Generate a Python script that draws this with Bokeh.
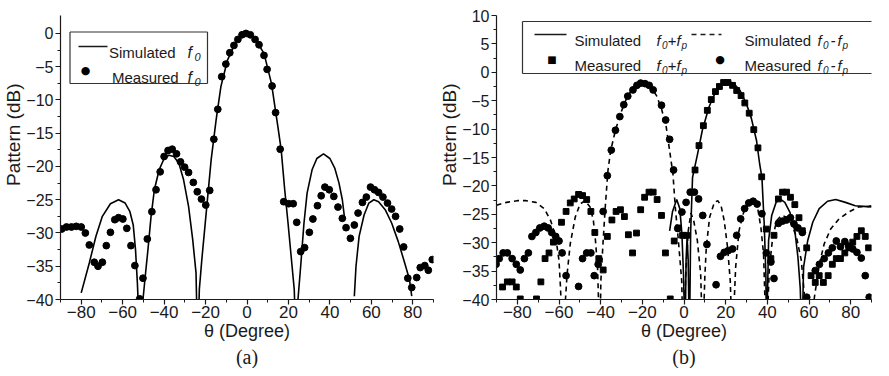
import math
from bokeh.plotting import figure
from bokeh.layouts import row
from bokeh.models import Range1d, FixedTicker, Label, Arrow, Title
from bokeh.embed import file_html
from bokeh.resources import INLINE

NaN = float("nan")

# ---------------- data: panel (a) ----------------
sim_a_theta = [-80, -76.1, -72.9, -69.8, -65.9, -62, -58.8, -56.5, -54.9, -53.8, -52.9, -51.5,
               -50.2, -49.1, -47.8, -46.3, -44.7, -42.4, -40, -37.6, -35.3, -32.9, -30.6, -28.2,
               -26.2, -24.6, -23.8, -23.0, -21.8, -20.3, -18.8, -17.3, -14.9, -12.6, -9.4, -5.5,
               -0.8, 3.9, 8.2, 11.8, 14.9, 16.5, 18.2, 19.8, 21.3, 22.8, 23.8, 24.6, 25.9, 27.5,
               29.0, 31.4, 33.7, 36.9, 40, 42.4, 44.4, 46, 47.1, NaN, 51.8, 52.6, 54.1, 56.5, 58.8,
               61.2, 63.5, 66.7, 69.8, 73, 76.1, 78.4, 79.5]
sim_a_db = [-39.0, -34.5, -30.5, -27.5, -25.6, -25.0, -25.5, -26.8, -28.8, -32.5, -37.5, -48,
            -40, -36.5, -32.5, -27.5, -23.5, -20.5, -18.8, -18.3, -18.5, -19.5, -22.0, -26.0,
            -31.0, -36.0, -48, -38.5, -34, -29, -24, -19, -13, -8.0, -4.0, -1.3,
            0.0, -0.8, -3.0, -7.5, -14.0, -17.5, -23.5, -28.5, -33.5, -38.5, -48, -40, -35, -28.5,
            -24.0, -20.5, -18.8, -18.1, -18.8, -20.3, -22.5, -25.0, -27.8, NaN, -39.5, -35, -30.5, -27.3, -25.5,
            -25.0, -25.3, -26.5, -28.5, -31.3, -34.5, -37, -39.5]

meas_a_theta = [-89.4, -87.1, -84.7, -82.4, -80.0, -78.0, -76.1, -73.7, -71.9, -69.8, -67.9, -65.9,
                -63.8, -62.0, -59.9, -58.0, -56.0, -54.1, -51.8, -50.2, -48.1, -45.9, -43.9, -41.9,
                -40.0, -38.1, -36.1, -34.0, -32.1, -30.1, -28.2, -25.9, -24.0, -22.0, -19.9, -18.0,
                -16.0, -14.1, -12.2, -10.2, -8.3, -6.3, -4.4, -2.4, -0.5, 1.6, 3.9, 5.8, 8.2, 9.7,
                12.1, 13.8, 16.0, 17.7, 20.1, 22.3, 24.0, 25.9, 27.8, 30.1, 31.8, 34.0, 35.8, 37.6,
                39.7, 41.9, 43.9, 46.0, 47.8, 49.9, 51.8, 53.6, 55.7, 57.6, 59.6, 61.5, 63.5, 65.6,
                67.8, 69.8, 71.7, 73.7, 75.6, 77.6, 79.5, 81.9, 83.6, 85.8, 87.5, 89.4]
meas_a_db = [-29.4, -29.1, -29.1, -29.0, -29.1, -30.0, -31.8, -34.4, -35.0, -34.4, -31.9, -29.9,
             -28.0, -27.7, -27.9, -29.3, -31.9, -34.9, -39.9, -36.8, -30.9, -26.8, -23.5, -20.8,
             -18.5, -17.6, -17.4, -18.1, -19.3, -20.1, -20.9, -22.4, -23.8, -24.9, -25.8, -23.6,
             -15.9, -11.4, -6.5, -4.6, -2.9, -1.8, -0.9, -0.2, 0.0, -0.2, -0.9, -1.7, -3.3, -5.4,
             -7.9, -11.9, -17.4, -25.3, -25.6, -25.6, -28.4, -32.8, -32.2, -29.9, -27.9, -25.9, -24.4, -23.1,
             -23.5, -24.5, -26.1, -27.8, -29.2, -30.8, -28.8, -27.0, -25.4, -24.6, -23.1, -23.5, -23.9, -24.6,
             -25.5, -26.4, -27.5, -29.4, -32.1, -36.8, -38.2, -36.7, -35.2, -34.9, -35.6, -34.0]

# ---------------- data: panel (b) ----------------
sim_plus_theta = [-6.9, -5.5, -3.5, -2.0, -1.0, -0.2, 0.5, 1.0, 1.5, 2.0, 2.6, 3.2, 4.1, 6.5, 8.8,
                  12.0, 15.1, 18.3, 20.6, 23.7, 26.9, 30.0, 32.4, 34.8, 36.3, 37.4, 38.5, 39.3, 39.6,
                  40.6, 42.1, 44.2, 46.1, 48.4, 50.8, 53.2, 54.7, 55.8, 56.6, 57.4, 59.4, 61.8, 64.9,
                  68.9, 72.8, 77.5, 82.2, 86.2, 90]
sim_plus_db = [-27.9, -24.5, -22.4, -24.0, -28.5, -36.0, -48, -33, -29, -33, -48, -28, -18.5, -14.4, -10.2,
               -6.1, -3.5, -2.0, -1.6, -1.9, -3.2, -5.6, -8.2, -12.0, -16.1, -18.5, -26.7, -35.5, -48,
               -29.6, -25.2, -22.9, -22.3, -22.9, -24.6, -27.9, -32.6, -38, -48, -34.3, -29.6, -26.4, -24.0,
               -22.7, -22.4, -22.9, -23.5, -23.6, -23.7]

sim_minus_theta = [-90, -85.2, -80.0, -75.8, -71.1, -67.1, -64.0, -61.6, -60.0, -59.3, -58.1,
                   -56.9, -56.1, -54.6, -52.2, -49.9, -47.5, -45.1, -43.5, -42.5, -41.5, -40.4,
                   -39.9, -38.8, -37.7, -36.5, -35.2, -32.9, -30.5, -27.4, -24.2, -20.3, -16.4, -13.2,
                   -10.8, -8.5, -6.9, -5.3, -4.2, -2.7, -1.1, -0.4, 0.8, 2.0, 3.3, 4.6, 6.4, 8.0, 9.0,
                   10.0, 10.7, 12.3, 14.6, 16.2, 17.8, 19.3, 20.9, 22.2, 23.2, 24.8, 26.4, 28.8, 31.1,
                   33.5, 35.4, 36.9, 38.2, 39.5, 41.0, 42.6, 44.5, 46.8, 49.2, 51.6, 54.0, 56.3, 57.9,
                   60.3, 62.6, 65.0, 67.3, 70.4, 74.4, 79.1, 83.8, 88.6, 90]
sim_minus_db = [-23.4, -22.9, -22.6, -22.6, -22.9, -24.0, -26.1, -29.0, -33.1, -37.8, -48,
                -40, -35.5, -30.2, -25.5, -23.2, -22.6, -23.7, -26.1, -29.6, -34.3, -48,
                -36.7, -29.6, -23.2, -17.3, -13.8, -10.2, -7.3, -4.4, -2.6, -1.7, -2.3, -4.1,
                -6.4, -9.7, -13.8, -17.9, -23.7, -29.6, -36.7, -48, -36, -28, -24.8, -26, -29.6, -35.5, -48,
                -36, -30.8, -25.5, -22.9, -22.6, -23.5, -26.1, -30.8, -36.7, -48, -34.3, -27.9, -24.4, -22.9,
                -22.9, -24.0, -27.3, -32.0, -48, -34.3, -29.0, -26.1, -25.2, -25.5, -26.7, -29.0, -33.1, -39.6,
                -48, -39.6, -33.7, -30.2, -27.6, -25.8, -24.6, -23.7, -23.6, -23.5]

meas_plus_theta = [-87.1, -84.8, -82.5, -80.5, -78.6, -70.8, -68.7, -66.7, -64.8, -62.7, -58.8, -56.6,
                   -54.6, -52.7, -50.6, -48.7, -46.7, -44.7, -42.8, -40.9, -38.8, -36.8, -34.6, -32.6,
                   -30.5, -28.6, -26.7, -24.7, -22.8, -20.8, -18.9, -16.8, -14.8, -12.9, -10.8, -8.9,
                   -6.6, -4.7, -2.7, -0.7, 1.3, 5.3, 7.2, 9.3, 11.2, 13.1, 15.1, 17.0, 19.0, 21.1, 23.3,
                   25.3, 27.4, 29.2, 31.3, 33.5, 35.5, 37.3, 39.5, 41.7, 43.2, 45.3, 47.3, 49.2, 51.1,
                   53.2, 55.2, 56.8, 58.9, 61.0, 63.0, 64.9, 66.9, 69.2, 71.2, 73.1, 75.1, 77.2, 79.1,
                   81.0, 83.0, 85.1, 87.0, 88.6]
meas_plus_db = [-37.8, -36.9, -36.9, -37.8, -39.9, -39.9, -36.9, -32.8, -31.8, -29.9, -26.4, -24.5,
                -23.0, -22.3, -21.5, -21.7, -22.4, -24.5, -28.2, -32.8, -34.8, -28.9, -26.0, -24.5,
                -24.2, -25.4, -28.6, -31.8, -28.3, -24.2, -22.0, -21.1, -21.1, -22.4, -25.2, -31.8,
                -39.9, -29.7, -27.4, -28.7, -28.7, -17.2, -12.9, -9.4, -6.7, -4.8, -3.4, -2.5, -1.8, -1.8, -2.3,
                -3.2, -4.1, -5.4, -7.2, -10.1, -13.3, -18.4, -27.6, -32.8, -28.7, -22.3, -21.1, -21.1, -22.0,
                -23.3, -25.6, -27.9, -30.9, -35.8, -37.0, -35.8, -37.0, -35.8, -33.8, -32.8, -32.8, -31.8, -30.9,
                -29.9, -28.9, -27.9, -28.9, -30.9]

meas_minus_theta = [-90.2, -88.7, -86.8, -84.8, -82.5, -80.5, -78.6, -76.6, -74.7, -73.0, -71.1, -69.2,
                    -67.1, -65.2, -63.5, -61.6, -60.0, -58.5, -56.6, -50.6, -48.7, -46.7, -44.7, -43.1,
                    -41.2, -38.8, -36.8, -34.9, -32.9, -30.8, -28.9, -27.0, -24.5, -22.6, -20.8, -18.7,
                    -16.7, -14.8, -10.8, -8.8, -6.9, -5.0, -3.0, -1.0, 1.0, 3.0, 5.0, 7.0, 9.0, 11.0,
                    15.4, 17.5, 19.3, 21.2, 23.3, 25.3, 27.2, 29.1, 31.1, 33.2, 35.1, 37.4, 39.5, 41.7,
                    43.2, 45.3, 47.3, 49.2, 51.1, 52.8, 54.7, 56.8, 58.9, 63.0, 65.0, 67.3, 69.3, 71.2,
                    73.1, 75.1, 77.2, 79.1, 81.0, 83.0, 85.1, 87.0, 88.9]
meas_minus_db = [-33.8, -32.8, -31.8, -31.8, -32.8, -33.8, -34.8, -32.8, -31.8, -28.9, -28.2, -27.4,
                 -27.1, -27.4, -28.2, -28.9, -29.7, -31.8, -35.8, -37.7, -32.8, -31.8, -31.8, -35.8,
                 -33.8, -24.5, -18.2, -13.7, -10.2, -7.8, -5.7, -4.2, -3.1, -2.3, -1.9, -2.0,
                 -2.3, -3.1, -5.8, -8.4, -11.8, -17.2, -27.5, -24.6, -22.9, -21.1, -21.1, -22.3, -25.2, -30.3,
                 -37.4, -32.4, -31.7, -31.4, -31.1, -28.7, -25.8, -24.0, -23.0, -22.7, -23.2, -24.9, -31.8, -33.4,
                 -36.3, -26.6, -26.2, -26.0, -25.6, -26.7, -27.4, -28.2, -39.6, -34.9, -33.8, -32.8, -31.8, -30.9,
                 -29.7, -30.7, -29.8, -30.6, -31.1, -31.7, -32.7, -35.8, -39.6]

x_ticks = [-80, -60, -40, -20, 0, 20, 40, 60, 80]
x_minor = [-90, -70, -50, -30, -10, 10, 30, 50, 70, 90]
a_y_ticks = [-40, -35, -30, -25, -20, -15, -10, -5, 0]
a_y_minor = [-37.5, -32.5, -27.5, -22.5, -17.5, -12.5, -7.5, -2.5]
b_y_ticks = [-40, -35, -30, -25, -20, -15, -10, -5, 0, 5, 10]
b_y_minor = [-37.5, -32.5, -27.5, -22.5, -17.5, -12.5, -7.5, -2.5, 2.5, 7.5]

# ---------------- layout constants ----------------
H = 368
TOP, BOTTOM = 15, 69
FRAME_BOTTOM_PAGE = H - BOTTOM      # page y of the x axis
FONT = "Liberation Sans"
INK = "#1a1a1a"


def make_fig(width, left, right, y_lo, y_hi, yt, ym, tag, ylab_offset):
    p = figure(width=width, height=H, x_range=Range1d(-90, 90), y_range=Range1d(y_lo, y_hi),
               output_backend="svg", toolbar_location=None, title=None,
               min_border_left=left, min_border_right=right,
               min_border_top=TOP, min_border_bottom=BOTTOM)
    p.outline_line_color = None
    p.xgrid.visible = False
    p.ygrid.visible = False
    p.background_fill_color = "white"
    p.border_fill_color = "white"
    p.xaxis.ticker = FixedTicker(ticks=x_ticks, minor_ticks=x_minor)
    p.yaxis.ticker = FixedTicker(ticks=yt, minor_ticks=ym)
    for ax in (p.xaxis[0], p.yaxis[0]):
        ax.axis_line_color = INK
        ax.axis_line_width = 1.2
        ax.major_tick_line_color = INK
        ax.minor_tick_line_color = INK
        ax.major_tick_line_width = 1.2
        ax.minor_tick_line_width = 1
        ax.major_tick_out = 5
        ax.major_tick_in = 0
        ax.minor_tick_out = 3
        ax.minor_tick_in = 0
        ax.major_label_text_font = FONT
        ax.major_label_text_color = INK
        ax.axis_label_text_font = FONT
        ax.axis_label_text_font_style = "normal"
        ax.axis_label_text_color = INK
        ax.axis_label_standoff = 0
    p.xaxis.major_label_text_font_size = "17px"
    p.xaxis.major_label_standoff = 1
    p.yaxis.major_label_text_font_size = "16px"
    p.yaxis.major_label_standoff = 2
    p.xaxis.axis_label = "θ (Degree)"
    p.xaxis.axis_label_text_font_size = "18px"
    # y-axis title: placed as a side title so that it can sit above the frame centre
    p.add_layout(Title(text="Pattern (dB)", align="right", offset=ylab_offset,
                       text_font=FONT, text_font_size="19px", text_font_style="normal",
                       text_color=INK, standoff=0), "left")
    p.add_layout(Title(text=tag, align="center", text_font="Liberation Serif",
                       text_font_size="20px", text_font_style="normal", text_color=INK,
                       standoff=0, offset=0), "below")
    return p


class Leg:
    """Legend annotations positioned in page pixels (converted to frame screen units)."""
    def __init__(self, p, frame_left_page):
        self.p = p
        self.fl = frame_left_page

    def sx(self, x):
        return x - self.fl

    def sy(self, y):
        return FRAME_BOTTOM_PAGE - y

    def text(self, x, y, t, size, style="normal", font=FONT):
        self.p.add_layout(Label(x=self.sx(x), y=self.sy(y), x_units="screen", y_units="screen",
                                text=t, text_font=font, text_font_size=f"{size}px",
                                text_font_style=style, text_color=INK,
                                text_align="left", text_baseline="alphabetic"))

    def seg(self, x0, y0, x1, y1, dash="solid", width=1.6, color=INK):
        self.p.add_layout(Arrow(end=None, x_start=self.sx(x0), y_start=self.sy(y0),
                                x_end=self.sx(x1), y_end=self.sy(y1),
                                start_units="screen", end_units="screen",
                                line_color=color, line_width=width, line_dash=dash))

    def box(self, x0, y0, x1, y1):
        for a, b, c, d in ((x0, y0, x1, y0), (x0, y1, x1, y1), (x0, y0, x0, y1), (x1, y0, x1, y1)):
            self.seg(a, b, c, d, width=1.2, color="#333333")

    def mark(self, x, y, ch, size):
        self.p.add_layout(Label(x=self.sx(x), y=self.sy(y), x_units="screen", y_units="screen",
                                text=ch, text_font="DejaVu Sans", text_font_size=f"{size}px",
                                text_color="black", text_align="center", text_baseline="middle"))


# ---------------- panel (a) ----------------
pa = make_fig(436, 52, 3, -40, 2.7, a_y_ticks, a_y_minor, "(a)", 68)
pa.line(sim_a_theta, sim_a_db, line_color="black", line_width=1.6)
pa.scatter(meas_a_theta, meas_a_db, marker="circle", size=6.8, fill_color="black", line_color="black")

la = Leg(pa, 60)
la.box(69.5, 31.5, 207, 83)
la.seg(78, 46, 107, 46)
la.text(108.5, 51.5, "Simulated", 15)
la.text(187, 51.5, "f", 16, "italic")
la.text(194, 56, "0", 11, "italic")
la.mark(85, 70, "●", 11)
la.text(111.5, 77, "Measured", 15)
la.text(187, 77, "f", 16, "italic")
la.text(194, 81.5, "0", 11, "italic")

# ---------------- panel (b) ----------------
pb = make_fig(437, 53, 2, -40, 10, b_y_ticks, b_y_minor, "(b)", 68)
pb.line(sim_plus_theta, sim_plus_db, line_color="black", line_width=1.6)
pb.line(sim_minus_theta, sim_minus_db, line_color="black", line_width=1.6, line_dash="5 4")
pb.scatter(meas_plus_theta, meas_plus_db, marker="square", size=5.8, fill_color="black", line_color="black")
pb.scatter(meas_minus_theta, meas_minus_db, marker="circle", size=6.8, fill_color="black", line_color="black")

lb = Leg(pb, 497)
lb.box(523, 21, 879.5, 73)


def f_combo(x, base, sign):
    lb.text(x, base, "f", 15, "italic")
    lb.text(x + 5.5, base + 4.5, "0", 10, "italic")
    if sign == "+":
        lb.text(x + 11, base, "+", 15, "italic")
        lb.text(x + 20, base, "f", 15, "italic")
        lb.text(x + 25, base + 4.5, "p", 10, "italic")
    else:
        lb.text(x + 13, base, "-", 15, "italic")
        lb.text(x + 20, base, "f", 15, "italic")
        lb.text(x + 25, base + 4.5, "p", 10, "italic")


lb.seg(535, 34, 567, 34)
lb.text(575, 40, "Simulated", 15)
f_combo(657, 40, "+")
lb.seg(692, 34, 722, 34, "5 4")
lb.text(745, 40, "Simulated", 15)
f_combo(818, 40, "-")

lb.mark(552.5, 59, "■", 10)
lb.text(575, 65, "Measured", 15)
f_combo(657, 65, "+")
lb.mark(720.5, 59, "●", 11)
lb.text(745, 65, "Measured", 15)
f_combo(818, 65, "-")

layout = row(pa, pb, spacing=0)
open("out.html", "w").write(file_html(layout, INLINE))
